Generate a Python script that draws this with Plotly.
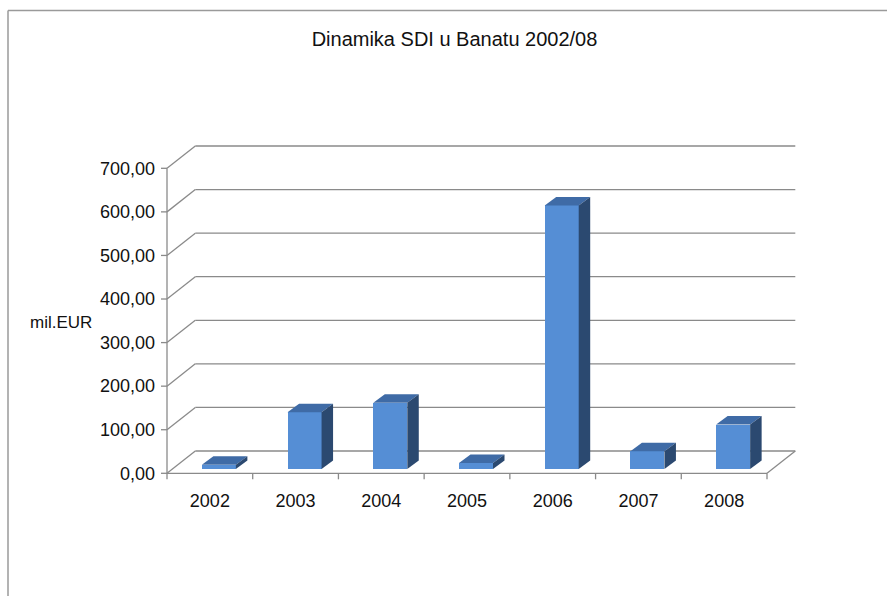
import plotly.graph_objects as go

# ---------------- data ----------------
years = ["2002", "2003", "2004", "2005", "2006", "2007", "2008"]
fdi_values = [10, 130, 152, 14, 605, 41, 102]
y_tick_values = [0, 100, 200, 300, 400, 500, 600, 700]
y_tick_labels = ["0,00", "100,00", "200,00", "300,00", "400,00", "500,00", "600,00", "700,00"]
title_text = "Dinamika SDI u Banatu 2002/08"
y_axis_title = "mil.EUR"

# ---------------- geometry (pixels -> axis units) ----------------
W, H = 887, 596
X0_PX, Y0_PX = 167.0, 473.3          # front-left-bottom corner of the chart box
CAT_PX = 85.714                        # width of one category
VAL_PX = 305.0 / 700.0                 # pixels per value unit
M_L, M_R, M_T, M_B = 160, 86, 140, 116
PW = W - M_L - M_R
PH = H - M_T - M_B
x_min = -0.5 - (X0_PX - M_L) / CAT_PX
x_max = x_min + PW / CAT_PX
y_min = -((M_T + PH) - Y0_PX) / VAL_PX
y_max = y_min + PH / VAL_PX

WALL_DX = 28.3 / CAT_PX               # depth offset of back wall
WALL_DY = 22.3 / VAL_PX
FRONT_DX = 9.0 / CAT_PX               # bar front face offset
FRONT_DY = 4.3 / VAL_PX
DEPTH_DX = 11.5 / CAT_PX              # bar depth
DEPTH_DY = 8.5 / VAL_PX
BAR_W = 34.0 / CAT_PX

GRID_COL = "#8a8a8a"
FRONT_COL = "#558ED5"
TOP_COL = "#3F6BA6"
SIDE_COL = "#2B4970"
FONT = "Liberation Sans"
TEXT_COL = "#111111"

n = len(years)
idx = list(range(n))
left_edge = -0.5
right_edge = n - 0.5

fig = go.Figure()

# bar front faces
fig.add_trace(go.Bar(
    x=[i + FRONT_DX for i in idx], y=fdi_values, base=FRONT_DY, width=BAR_W,
    marker=dict(color=FRONT_COL, line=dict(width=0)),
    hoverinfo="skip", showlegend=False))

# bar top and side faces
for i, v in zip(idx, fdi_values):
    xl = i + FRONT_DX - BAR_W / 2
    xr = i + FRONT_DX + BAR_W / 2
    b = FRONT_DY
    t = FRONT_DY + v
    fig.add_trace(go.Scatter(
        x=[xl, xr, xr + DEPTH_DX, xl + DEPTH_DX, xl],
        y=[t, t, t + DEPTH_DY, t + DEPTH_DY, t],
        fill="toself", fillcolor=TOP_COL, mode="lines", line=dict(width=0),
        hoverinfo="skip", showlegend=False))
    fig.add_trace(go.Scatter(
        x=[xr, xr, xr + DEPTH_DX, xr + DEPTH_DX, xr],
        y=[b, t, t + DEPTH_DY, b + DEPTH_DY, b],
        fill="toself", fillcolor=SIDE_COL, mode="lines", line=dict(width=0),
        hoverinfo="skip", showlegend=False))

shapes = []
line_style = dict(color=GRID_COL, width=1.3)
# back-wall gridlines with their diagonal on the left side wall
for v in y_tick_values:
    shapes.append(dict(type="line", xref="x", yref="y", layer="below",
                       x0=left_edge, y0=v, x1=left_edge + WALL_DX, y1=v + WALL_DY, line=line_style))
    shapes.append(dict(type="line", xref="x", yref="y", layer="below",
                       x0=left_edge + WALL_DX, y0=v + WALL_DY, x1=right_edge + WALL_DX, y1=v + WALL_DY,
                       line=line_style))
    # y tick marks
    shapes.append(dict(type="line", xref="x", yref="y", layer="below",
                       x0=left_edge - 6 / CAT_PX, y0=v, x1=left_edge, y1=v, line=line_style))
# front vertical axis
shapes.append(dict(type="line", xref="x", yref="y", layer="below",
                   x0=left_edge, y0=0, x1=left_edge, y1=y_tick_values[-1], line=line_style))
# floor front edge and right diagonal
shapes.append(dict(type="line", xref="x", yref="y", layer="below",
                   x0=left_edge, y0=0, x1=right_edge, y1=0, line=line_style))
shapes.append(dict(type="line", xref="x", yref="y", layer="below",
                   x0=right_edge, y0=0, x1=right_edge + WALL_DX, y1=WALL_DY, line=line_style))
# category boundary ticks
for k in range(n + 1):
    xb = k - 0.5
    shapes.append(dict(type="line", xref="x", yref="y", layer="below",
                       x0=xb, y0=0, x1=xb, y1=-6 / VAL_PX, line=line_style))

# outer frame (top and left border)
def px_to_paper_x(px):
    return (px - M_L) / PW

def px_to_paper_y(py):
    return (H - M_B - py) / PH

BORDER = dict(color="#9a9a9a", width=1.5)
shapes.append(dict(type="line", xref="paper", yref="paper", layer="above",
                   x0=px_to_paper_x(8), y0=px_to_paper_y(10.5), x1=px_to_paper_x(890), y1=px_to_paper_y(10.5),
                   line=BORDER))
shapes.append(dict(type="line", xref="paper", yref="paper", layer="above",
                   x0=px_to_paper_x(8), y0=px_to_paper_y(10.5), x1=px_to_paper_x(8), y1=px_to_paper_y(600),
                   line=BORDER))

annotations = [
    dict(text=y_axis_title, xref="paper", yref="paper",
         x=px_to_paper_x(60.5), y=px_to_paper_y(322.5), xanchor="center", yanchor="middle",
         showarrow=False, font=dict(family=FONT, size=17, color=TEXT_COL)),
]

fig.update_layout(
    width=W, height=H,
    margin=dict(l=M_L, r=M_R, t=M_T, b=M_B, pad=0),
    paper_bgcolor="white", plot_bgcolor="white",
    title=dict(text=title_text, x=454.5 / W, xanchor="center", xref="container",
               y=1 - 39.0 / H, yanchor="middle", yref="container",
               font=dict(family=FONT, size=20, color=TEXT_COL)),
    shapes=shapes, annotations=annotations,
    showlegend=False, bargap=0,
    xaxis=dict(range=[x_min, x_max], showgrid=False, zeroline=False, showline=False,
               tickmode="array", tickvals=idx, ticktext=years, ticks="",
               ticklabelstandoff=8,
               tickfont=dict(family=FONT, size=18, color=TEXT_COL), fixedrange=True),
    yaxis=dict(range=[y_min, y_max], showgrid=False, zeroline=False, showline=False,
               tickmode="array", tickvals=y_tick_values, ticktext=y_tick_labels, ticks="",
               ticklabelstandoff=4,
               tickfont=dict(family=FONT, size=18, color=TEXT_COL), fixedrange=True),
)

fig.write_html("out.html")
